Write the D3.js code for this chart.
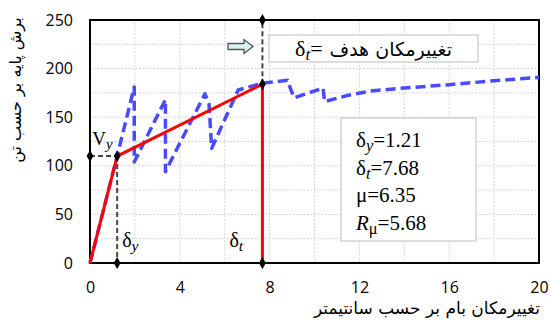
<!DOCTYPE html>
<html><head><meta charset="utf-8">
<script src="https://cdn.jsdelivr.net/npm/d3@7"></script>
<style>body{margin:0;background:#fff}svg{display:block}</style>
</head><body><svg id="c" width="551" height="327"></svg>
<script>
const xTicks = [0, 4, 8, 12, 16, 20];
const yTicks = [0, 50, 100, 150, 200, 250];
const xGrid = [2, 4, 6, 8, 10, 12, 14, 16, 18];
const yGrid = [25, 50, 75, 100, 125, 150, 175, 200, 225];
const bilinearX = [0, 1.21, 7.68, 7.68];
const bilinearY = [0, 110, 184, 0];
const pushX = [0, 1.21, 1.97, 1.97, 3.36, 3.36, 5.12, 5.3, 5.42, 6.6, 7.68, 8.8, 8.95, 9.1, 10.38, 10.45, 11.4, 12.5, 14, 16, 18, 20];
const pushY = [0, 110, 181, 104, 168, 94, 174, 164, 118, 178, 185, 188, 178, 170, 180, 166, 172, 177, 180, 183.5, 187.5, 191];
const deltaY = 1.21, deltaT = 7.68, Vy = 110, Vt = 184, yMax = 250;
const infoLines = [["δ","y","=1.21"],["δ","t","=7.68"],["μ","","=6.35"],["R","μ","=5.68"]];
const yTitle = "برش پایه بر حسب تن";
const xTitle = "تغییرمکان بام بر حسب سانتیمتر";
const targetText = "تغییرمکان هدف";

const svg = d3.select("#c");
const m = {l: 90, r: 12, t: 20, b: 64};
const W = 551, H = 327;
const x = d3.scaleLinear().domain([0, 20]).range([m.l, W - m.r]);
const y = d3.scaleLinear().domain([0, 250]).range([H - m.b, m.t]);

// grid
const g = svg.append("g");
g.selectAll(".gx").data(xGrid).join("line")
  .attr("x1", d => x(d)).attr("x2", d => x(d)).attr("y1", y(0)).attr("y2", y(250))
  .attr("stroke", "#d4d4d4").attr("stroke-width", 1).attr("stroke-dasharray", "2,1.5");
g.selectAll(".gy").data(yGrid).join("line")
  .attr("y1", d => y(d)).attr("y2", d => y(d)).attr("x1", x(0)).attr("x2", x(20))
  .attr("stroke", "#d4d4d4").attr("stroke-width", 1).attr("stroke-dasharray", "2,1.5");

// frame
svg.append("rect").attr("x", x(0)).attr("y", y(250)).attr("width", x(20) - x(0)).attr("height", y(0) - y(250))
  .attr("fill", "none").attr("stroke", "#000").attr("stroke-width", 2);

// axes labels (no tick marks)
const xa = svg.append("g").attr("transform", `translate(0,${y(0)})`)
  .call(d3.axisBottom(x).tickValues(xTicks).tickSize(0).tickPadding(19));
xa.select(".domain").remove();
xa.selectAll("text").attr("font-family", "Open Sans, sans-serif").attr("font-size", 16).attr("fill", "#000");
const ya = svg.append("g").attr("transform", `translate(${x(0)},0)`)
  .call(d3.axisLeft(y).tickValues(yTicks).tickSize(0).tickPadding(17));
ya.select(".domain").remove();
ya.selectAll("text").attr("font-family", "Open Sans, sans-serif").attr("font-size", 16).attr("fill", "#000");

// black dashed helper lines
const dash = svg.append("g").attr("stroke", "#444").attr("stroke-width", 2).attr("stroke-dasharray", "5,3").attr("fill", "none");
dash.append("line").attr("x1", x(0)).attr("x2", x(deltaY)).attr("y1", y(Vy)).attr("y2", y(Vy));
dash.append("line").attr("x1", x(deltaY)).attr("x2", x(deltaY)).attr("y1", y(Vy)).attr("y2", y(0));
dash.append("line").attr("x1", x(deltaT)).attr("x2", x(deltaT)).attr("y1", y(Vt)).attr("y2", y(yMax));

// pushover curve
const line = d3.line().x(d => x(d[0])).y(d => y(d[1]));
svg.append("path").datum(pushX.map((v, i) => [v, pushY[i]]))
  .attr("d", line).attr("fill", "none").attr("stroke", "#4a4aff").attr("stroke-width", 3.5)
  .attr("stroke-dasharray", "10,5").attr("stroke-linejoin", "round");

// bilinear
svg.append("path").datum(bilinearX.map((v, i) => [v, bilinearY[i]]))
  .attr("d", line).attr("fill", "none").attr("stroke", "#ff0000").attr("stroke-width", 3);

// markers
const pts = [[0, Vy], [deltaY, Vy], [deltaY, 0], [deltaT, 0], [deltaT, Vt], [deltaT, yMax]];
svg.selectAll(".mk").data(pts).join("path")
  .attr("d", d3.symbol(d3.symbolDiamond, 40))
  .attr("transform", d => `translate(${x(d[0])},${y(d[1])})`).attr("fill", "#000");

// label helper
function sub(sel, base, s, opts) {
  const t = sel.append("text").attr("x", opts.x).attr("y", opts.y)
    .attr("font-family", opts.ff || "Liberation Serif, serif").attr("font-size", opts.fs).attr("fill", "#000");
  t.append("tspan").text(base).attr("font-style", opts.baseItalic ? "italic" : "normal");
  if (s) t.append("tspan").text(s).attr("font-style", opts.subItalic ? "italic" : "normal")
    .attr("font-size", opts.fs * 0.78).attr("dy", opts.fs * 0.2);
  if (opts.rest) t.append("tspan").text(opts.rest).attr("dy", s ? -opts.fs * 0.2 : 0);
  return t;
}
sub(svg, "V", "y", {x: x(deltaY) - 25, y: y(Vy) - 11, fs: 19, subItalic: true});
sub(svg, "δ", "y", {x: x(deltaY) + 5, y: y(0) - 16, fs: 20, subItalic: true});
sub(svg, "δ", "t", {x: x(deltaT) - 33, y: y(0) - 16, fs: 20, subItalic: true});

// info box
svg.append("rect").attr("x", 341).attr("y", 118).attr("width", 135).attr("height", 123)
  .attr("fill", "#fff").attr("stroke", "#c8c8c8").attr("stroke-width", 1.2);
infoLines.forEach((l, i) => {
  sub(svg, l[0], l[1], {x: 356, y: 147 + i * 27.5, fs: 21, baseItalic: l[0] === "R", subItalic: l[0] === "δ", rest: l[2]});
});

// target box
svg.append("rect").attr("x", 269).attr("y", 35).attr("width", 209).attr("height", 27)
  .attr("fill", "#fff").attr("stroke", "#c8c8c8").attr("stroke-width", 1.2);
sub(svg, "δ", "t", {x: 295, y: 56, fs: 22, subItalic: true, rest: "="});
svg.append("text").attr("x", 452).attr("y", 56).attr("text-anchor", "end")
  .attr("font-family", "DejaVu Sans, sans-serif").attr("font-size", 19)
  .text(targetText);

// arrow
svg.append("path").attr("d", "M228,43.5 L244,43.5 L244,39.5 L253,46.5 L244,53.5 L244,49.5 L228,49.5 Z")
  .attr("fill", "#d9f3f3").attr("stroke", "#555").attr("stroke-width", 1.3);

// axis titles
svg.append("text").attr("x", 540).attr("y", 314).attr("text-anchor", "end")
  .attr("font-family", "DejaVu Sans, sans-serif").attr("font-size", 17)
  .text(xTitle);
svg.append("text").attr("transform", "translate(21,90) rotate(-90)").attr("text-anchor", "middle")
  .attr("font-family", "DejaVu Sans, sans-serif").attr("font-size", 16)
  .text(yTitle);
</script></body></html>
